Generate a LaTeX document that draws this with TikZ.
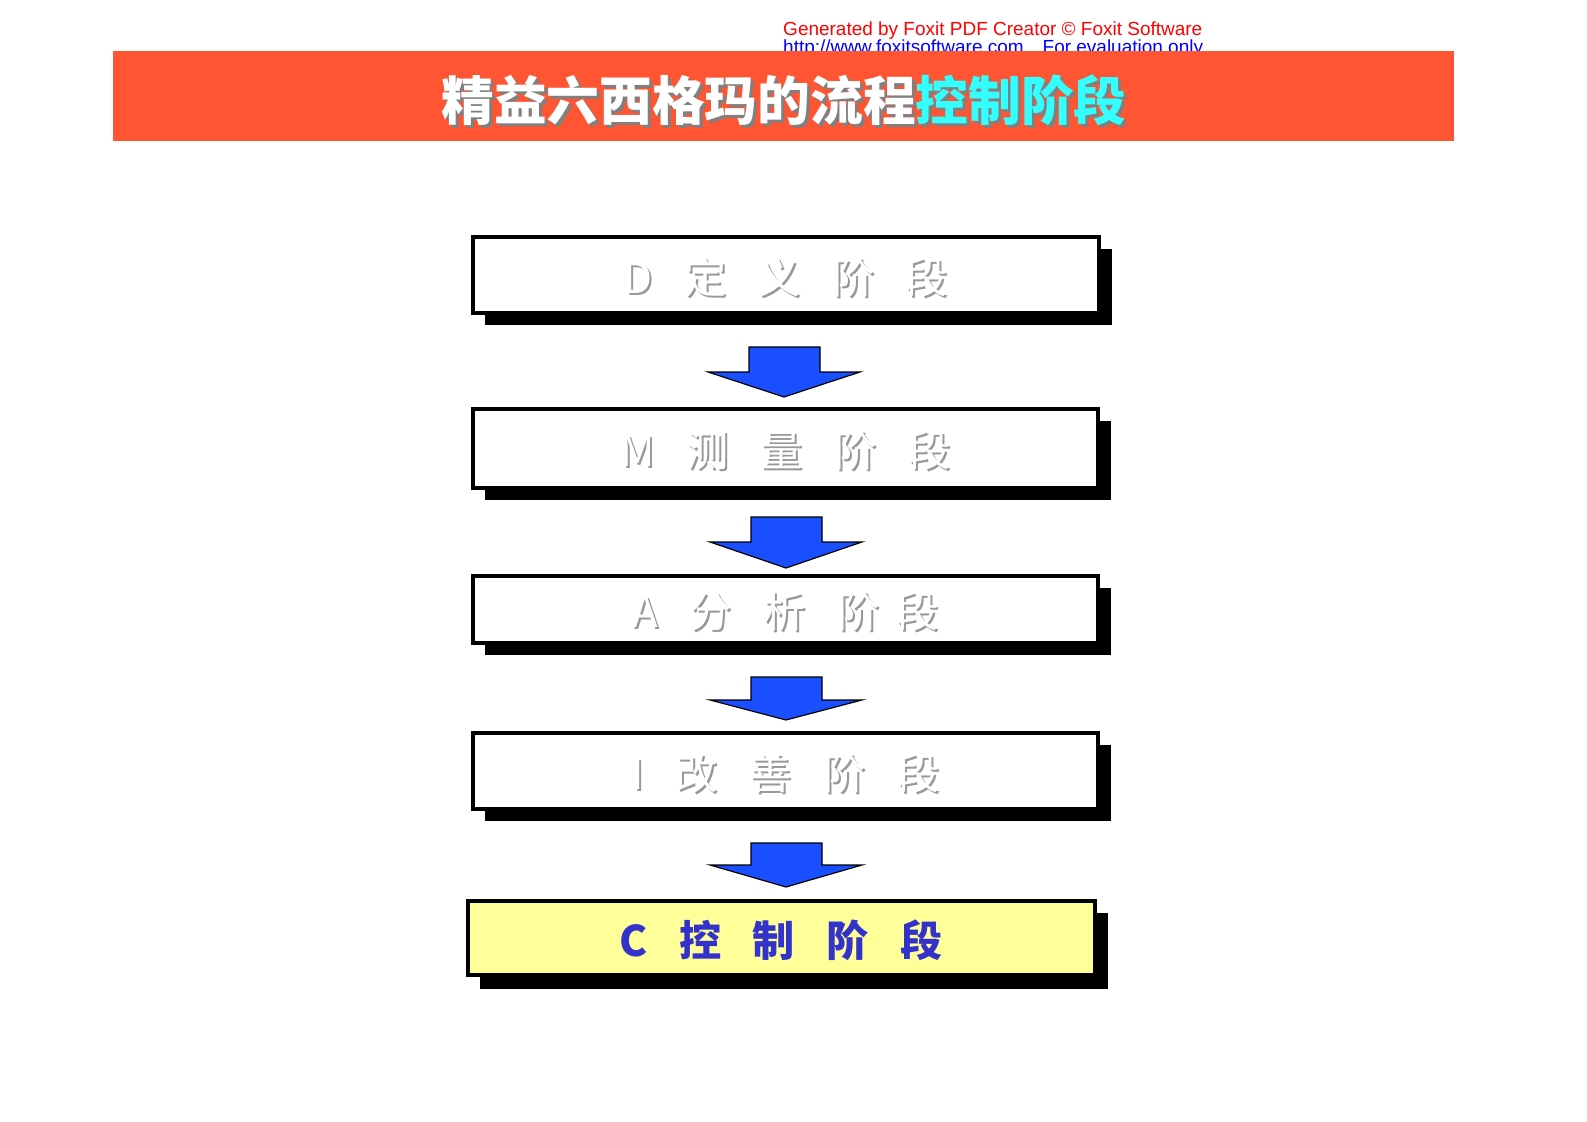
\documentclass[tikz,border=0pt]{standalone}
\usepackage{fontspec}
\setmainfont{Liberation Sans}
\newfontfamily\cjk{Noto Sans CJK SC}
\begin{document}
\begin{tikzpicture}[x=0.03cm,y=-0.03cm]
\definecolor{hdr}{HTML}{FF5533}
\definecolor{ttlcyan}{HTML}{33FFFF}
\definecolor{arr}{HTML}{1A4FFF}
\definecolor{ylw}{HTML}{FFFF99}
\definecolor{cblue}{HTML}{3333CC}
\tikzset{
 shadowbox/.style={fill=black,draw=none},
 stagebox/.style={fill=white,draw=black,line width=2.6pt},
 flowarrow/.style={fill=arr,draw=black,line width=1pt,line join=miter},
 grtxt/.style={font=\cjk\fontsize{36}{36}\selectfont,text=white},
}
\newcommand{\mysp}{\hspace{0.75em}}
\useasboundingbox (0,0) rectangle (1587,1122);
% watermark
\node[anchor=west,text=red,font=\fontsize{16.2}{17}\selectfont,inner sep=0] (wm1) at (783,31) {Generated by Foxit PDF Creator © Foxit Software};
\node[anchor=west,text=blue,font=\fontsize{16.2}{17}\selectfont,inner sep=0] (wm2) at (783,49) {http://www.foxitsoftware.com\quad For evaluation only.};
% header
\fill[hdr] (113,51) rectangle (1454,141);
\node[text=gray,font=\cjk\bfseries\fontsize{45}{45}\selectfont] at (787,103) {精益六西格玛的流程控制阶段};
\node[font=\cjk\bfseries\fontsize{45}{45}\selectfont] (title) at (784,100) {\textcolor{white}{精益六西格玛的流程}\textcolor{ttlcyan}{控制阶段}};
% boxes
\foreach \n/\xa/\ya/\xb/\yb/\t in {d/473/237/1099/313/{D\mysp 定\mysp 义\mysp 阶\mysp 段},m/473/409/1098/488/{M\mysp 测\mysp 量\mysp 阶\mysp 段},a/473/576/1098/643/{A\mysp 分\mysp 析\mysp 阶\hspace{0.4em}段},i/473/733/1098/809/{I\mysp 改\mysp 善\mysp 阶\mysp 段}}{
 \fill[shadowbox] (\xa+12,\ya+12) rectangle (\xb+13,\yb+12);
 \draw[stagebox] (\xa,\ya) rectangle (\xb,\yb);
 \node[grtxt,text=gray!80] at ({(\xa+\xb)/2+2},{(\ya+\yb)/2+4}) {\t};
 \node[grtxt] (\n) at ({(\xa+\xb)/2},{(\ya+\yb)/2+2}) {\t};
}
\fill[shadowbox] (480,913) rectangle (1108,989);
\draw[stagebox,fill=ylw] (468,901) rectangle (1095,975);
\node[font=\cjk\bfseries\fontsize{36}{36}\selectfont,text=cblue] (c) at (781,940) {C\mysp 控\mysp 制\mysp 阶\mysp 段};
% arrows
\foreach \cx/\top/\mid/\tip in {784/347/372/397, 786/517/542/568, 786/677/700/720, 786/843/865/887}{
 \draw[flowarrow] (\cx-35,\top) -- (\cx+36,\top) -- (\cx+36,\mid) -- (\cx+76,\mid) -- (\cx,\tip) -- (\cx-76,\mid) -- (\cx-35,\mid) -- cycle;
}
\end{tikzpicture}
\end{document}
